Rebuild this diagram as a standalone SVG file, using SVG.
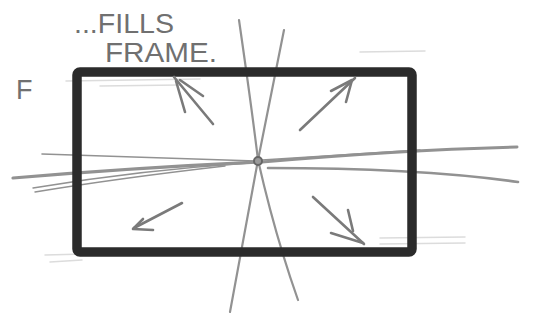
<svg xmlns="http://www.w3.org/2000/svg" width="533" height="321" viewBox="0 0 533 321">
  <style>
    .pencil{fill:none;stroke:#929292;stroke-linecap:round;stroke-linejoin:round}
    .faint{fill:none;stroke:#dcdcdc;stroke-width:1.5;stroke-linecap:round}
    .arrow{fill:none;stroke:#7a7a7a;stroke-width:2.6;stroke-linecap:round;stroke-linejoin:round}
    .hand{font-family:"Liberation Sans","DejaVu Sans",sans-serif;fill:#707070}
  </style>
  <rect width="533" height="321" fill="#ffffff"/>

  <!-- faint construction lines -->
  <g id="guides">
    <path class="faint" d="M66 81 L200 79"/>
    <path class="faint" d="M100 86 L180 85"/>
    <path class="faint" d="M360 52 L425 51"/>
    <path class="faint" d="M45 255 L85 254"/>
    <path class="faint" d="M50 262 L82 260"/>
    <path class="faint" d="M380 238 L465 237"/>
    <path class="faint" d="M380 244 L465 243"/>
  </g>

  <!-- vanishing / perspective lines through centre -->
  <g id="connectors">
    <path class="pencil" stroke-width="2.2" d="M284 30 L258 160 L230 312"/>
    <path class="pencil" stroke-width="2.2" d="M239 20 Q252 110 258 160 Q275 235 298 300"/>
    <path class="pencil" stroke-width="1.6" d="M42 154 L258 161"/>
    <path class="pencil" stroke-width="3.2" stroke="#a0a0a0" d="M13 178 Q130 168 258 162"/>
    <path class="pencil" stroke-width="1.4" d="M33 188 Q140 170 250 163"/>
    <path class="pencil" stroke-width="1.4" d="M35 192 Q120 178 225 166"/>
    <path class="pencil" stroke-width="3" stroke="#a0a0a0" d="M262 162 Q400 150 517 147"/>
    <path class="pencil" stroke-width="1.6" d="M262 160 L420 150"/>
    <path class="pencil" stroke-width="2.6" stroke="#a0a0a0" d="M268 168 Q420 168 518 182"/>
    <circle cx="258" cy="161" r="4" fill="#9a9a9a" stroke="#666" stroke-width="2"/>
  </g>

  <!-- frame -->
  <g id="frame">
    <rect x="77" y="72" width="335" height="180" rx="3" fill="none" stroke="#2b2b2b" stroke-width="9.5" stroke-linejoin="round"/>
  </g>

  <!-- arrows -->
  <g id="arrow-tl">
    <path class="arrow" d="M213 124 L174 77"/>
    <path class="arrow" d="M176 81 L185 112 M180 80 L203 96"/>
  </g>
  <g id="arrow-tr">
    <path class="arrow" d="M300 130 L355 78"/>
    <path class="arrow" d="M331 91 L352 80 L346 102"/>
  </g>
  <g id="arrow-bl">
    <path class="arrow" d="M182 203 L134 228"/>
    <path class="arrow" d="M143 219 L133 229 L153 230"/>
  </g>
  <g id="arrow-br">
    <path class="arrow" d="M313 197 L364 244"/>
    <path class="arrow" d="M348 210 L353 231 M331 233 L363 243"/>
  </g>

  <!-- labels -->
  <g id="labels">
    <text class="hand" x="74" y="33" font-size="27" textLength="100" lengthAdjust="spacingAndGlyphs">...FILLS</text>
    <text class="hand" x="105" y="62" font-size="27" textLength="112" lengthAdjust="spacingAndGlyphs">FRAME.</text>
    <text class="hand" x="16" y="99" font-size="27">F</text>
  </g>
</svg>
